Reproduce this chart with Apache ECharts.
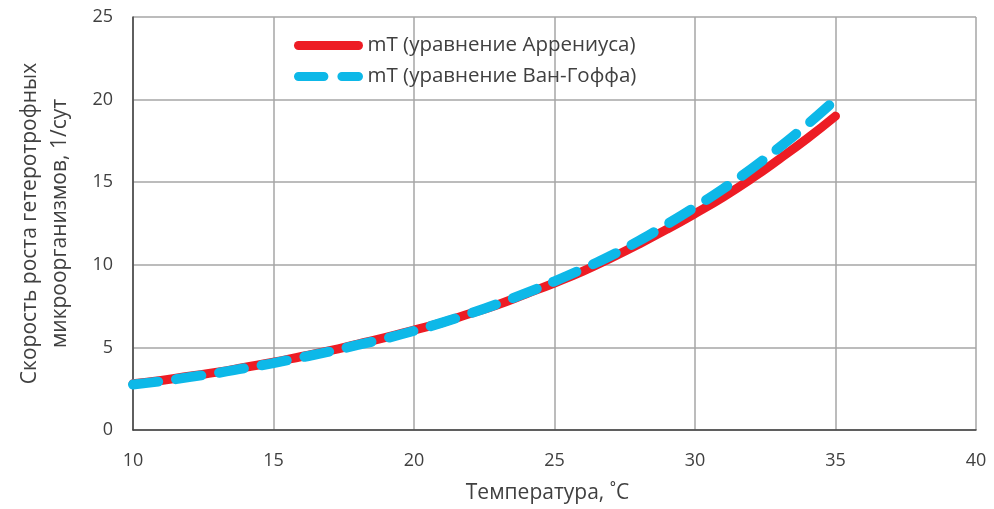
<!DOCTYPE html>
<html><head><meta charset="utf-8">
<script src="https://cdn.jsdelivr.net/npm/echarts@6/dist/echarts.min.js"></script>
<style>html,body{margin:0;padding:0;background:#fff}#c{width:994px;height:509px}</style>
</head><body><div id="c"></div>
<script>
const temps = [10,11,12,13,14,15,16,17,18,19,20,21,22,23,24,25,26,27,28,29,30,31,32,33,34,35];
const arrhenius = [2.8,3.0,3.25,3.5,3.8,4.1,4.45,4.8,5.2,5.6,6.05,6.5,7.05,7.6,8.25,8.9,9.6,10.4,11.25,12.15,13.1,14.1,15.2,16.4,17.65,19.0];
const vantHoff = [2.75,2.95,3.2,3.45,3.75,4.05,4.4,4.75,5.15,5.55,6.0,6.5,7.05,7.65,8.3,9.0,9.75,10.55,11.45,12.45,13.5,14.6,15.8,17.1,18.5,20.0];
const seriesNames = ['mT (уравнение Аррениуса)','mT (уравнение Ван-Гоффа)'];
const xTitle = 'Температура, ˚С';
const yTitle = 'Скорость роста гетеротрофных\nмикроорганизмов, 1/сут';

const font = 'Open Sans';
const chart = echarts.init(document.getElementById('c'), null, {renderer:'canvas'});
chart.setOption({
  animation:false,
  backgroundColor:'#fff',
  textStyle:{fontFamily:font},
  grid:{left:133,right:18,top:17,bottom:78,containLabel:false},
  legend:{
    orient:'vertical', left:289, top:30,
    itemWidth:60, itemHeight:14, itemGap:10,
    textStyle:{fontFamily:font,fontSize:20.5,color:'#404040',padding:[0,0,0,4]},
    lineStyle:{width:9},
    itemStyle:{opacity:0},
    data:seriesNames
  },
  xAxis:{
    type:'value', min:10, max:40, interval:5,
    name:xTitle, nameLocation:'middle', nameGap:53,
    nameTextStyle:{fontFamily:font,fontSize:21,color:'#404040',padding:[0,14,0,0]},
    axisLine:{lineStyle:{color:'#404040',width:1.5}},
    axisTick:{show:false},
    axisLabel:{fontFamily:font,fontSize:18,color:'#404040',margin:22},
    splitLine:{show:true,lineStyle:{color:'#a6a6a6',width:1.5}}
  },
  yAxis:{
    type:'value', min:0, max:25, interval:5,
    name:yTitle, nameLocation:'middle', nameGap:58,
    nameTextStyle:{fontFamily:font,fontSize:21,color:'#404040',lineHeight:30},
    axisLine:{show:true,lineStyle:{color:'#404040',width:1.5}},
    axisTick:{show:false},
    axisLabel:{fontFamily:font,fontSize:18,color:'#404040',margin:20},
    splitLine:{show:true,lineStyle:{color:'#a6a6a6',width:1.5}}
  },
  series:[
    {name:seriesNames[0],type:'line',data:temps.map((t,i)=>[t,arrhenius[i]]),
     showSymbol:false,symbol:'none',smooth:true,
     lineStyle:{color:'#ED1C24',width:9,cap:'round',join:'round'},itemStyle:{color:'#ED1C24'}},
    {name:seriesNames[1],type:'line',data:temps.map((t,i)=>[t,vantHoff[i]]),
     showSymbol:false,symbol:'none',smooth:true,
     lineStyle:{color:'#0DB8E8',width:10,type:[25.4,18],cap:'round',join:'round'},itemStyle:{color:'#0DB8E8'}}
  ]
});
</script></body></html>
